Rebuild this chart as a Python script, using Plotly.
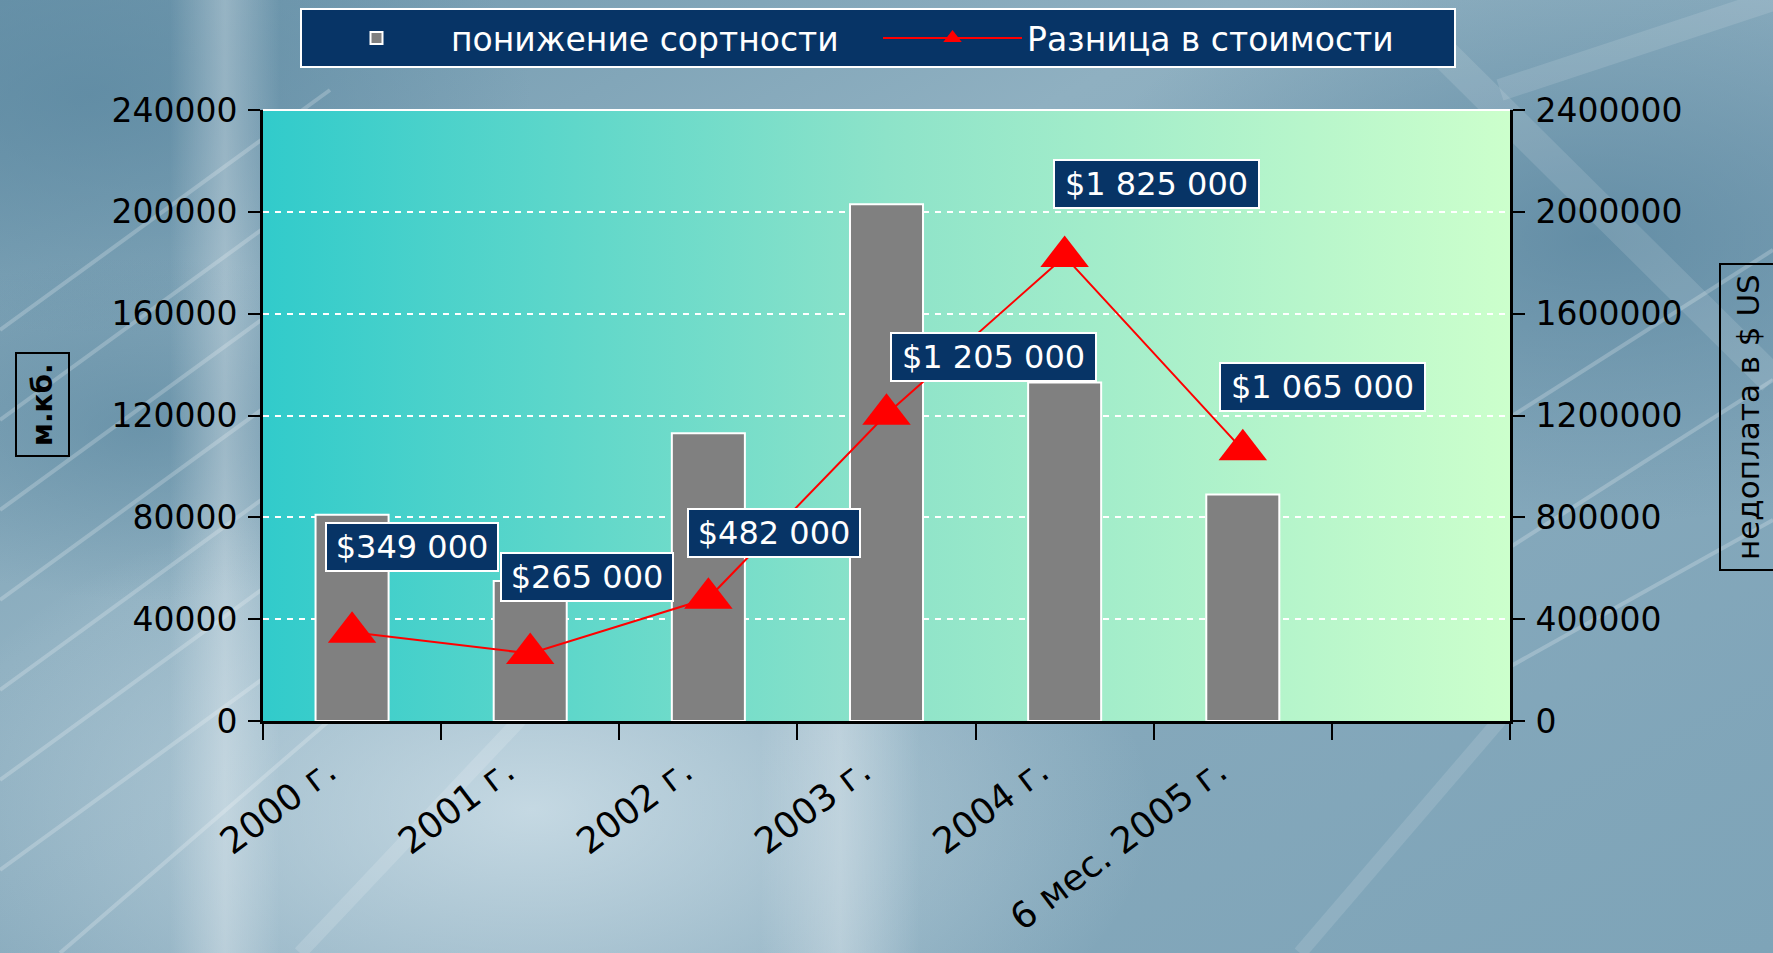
import base64
import plotly.graph_objects as go

# ---------------- data ----------------
categories = ["2000 г.", "2001 г.", "2002 г.", "2003 г.", "2004 г.", "6 мес. 2005 г."]
grade_drop = [81000, 55000, 113000, 203000, 133000, 89000]          # м.кб. (left axis)
cost_diff = [349000, 265000, 482000, 1205000, 1825000, 1065000]    # $ US (right axis)
left_ticks = [0, 40000, 80000, 120000, 160000, 200000, 240000]
right_ticks = [0, 400000, 800000, 1200000, 1600000, 2000000, 2400000]
bar_name = "понижение сортности"
line_name = "Разница в стоимости"
left_title = "м.кб."
right_title = "недоплата в $ US"

# label offsets (pixels) of the value boxes relative to their points
label_dx = [60, 57, 66, 107, 92, 80]
label_dy = [85, 77, 65, 57, 72, 63]

W, H = 1773, 953
L, R, T, B = 263, 263, 110, 232
pw, ph = W - L - R, H - T - B

NAVY = "#073466"
FONT = "DejaVu Sans, Verdana, sans-serif"

# ---------------- background images (SVG) ----------------
bg_svg = f"""<svg xmlns='http://www.w3.org/2000/svg' width='{W}' height='{H}' viewBox='0 0 {W} {H}'>
<defs>
<linearGradient id='g0' x1='0' y1='0' x2='1' y2='1'>
<stop offset='0' stop-color='#6d96ac'/>
<stop offset='0.35' stop-color='#8fb0c1'/>
<stop offset='0.6' stop-color='#86a9bc'/>
<stop offset='1' stop-color='#7ea4b8'/>
</linearGradient>
<radialGradient id='r1' cx='0.3' cy='0.85' r='0.35'>
<stop offset='0' stop-color='#d4e4ec' stop-opacity='0.8'/>
<stop offset='1' stop-color='#d4e4ec' stop-opacity='0'/>
</radialGradient>
<radialGradient id='r2' cx='0.9' cy='0.25' r='0.3'>
<stop offset='0' stop-color='#55829c' stop-opacity='0.7'/>
<stop offset='1' stop-color='#55829c' stop-opacity='0'/>
</radialGradient>
<radialGradient id='r3' cx='0.05' cy='0.1' r='0.25'>
<stop offset='0' stop-color='#5a87a0' stop-opacity='0.7'/>
<stop offset='1' stop-color='#5a87a0' stop-opacity='0'/>
</radialGradient>
<radialGradient id='r4' cx='0.08' cy='0.45' r='0.18'>
<stop offset='0' stop-color='#4f7e98' stop-opacity='0.5'/>
<stop offset='1' stop-color='#4f7e98' stop-opacity='0'/>
</radialGradient>
<linearGradient id='band' x1='0' y1='0' x2='1' y2='0'>
<stop offset='0' stop-color='#ffffff' stop-opacity='0'/>
<stop offset='0.5' stop-color='#ffffff' stop-opacity='0.3'/>
<stop offset='1' stop-color='#ffffff' stop-opacity='0'/>
</linearGradient>
</defs>
<rect width='{W}' height='{H}' fill='url(#g0)'/>
<rect width='{W}' height='{H}' fill='url(#r1)'/>
<rect width='{W}' height='{H}' fill='url(#r2)'/>
<rect width='{W}' height='{H}' fill='url(#r3)'/>
<rect width='{W}' height='{H}' fill='url(#r4)'/>
<rect x='170' y='0' width='110' height='{H}' fill='url(#band)'/>
<rect x='760' y='700' width='160' height='260' fill='url(#band)'/>
<g stroke='#ffffff' stroke-opacity='0.22' stroke-width='4' fill='none'>
<path d='M0 330 L330 90'/><path d='M0 420 L330 180'/><path d='M0 510 L330 270'/>
<path d='M0 600 L330 360'/><path d='M0 690 L330 450'/><path d='M0 780 L330 540'/>
<path d='M0 870 L330 630'/><path d='M60 953 L330 720'/>
<path d='M1490 430 L1773 250'/><path d='M1490 560 L1773 380'/><path d='M1450 700 L1773 520'/>
<path d='M1420 30 L1773 380' stroke-width='30' stroke-opacity='0.12'/>
<path d='M1500 90 L1773 0' stroke-width='22' stroke-opacity='0.12'/>
<path d='M300 953 L520 720' stroke-width='14' stroke-opacity='0.15'/>
<path d='M1300 953 L1500 720' stroke-width='14' stroke-opacity='0.12'/>
</g>
</svg>"""

plot_svg = """<svg xmlns='http://www.w3.org/2000/svg' width='1000' height='500' viewBox='0 0 1000 500' preserveAspectRatio='none'>
<defs><linearGradient id='p' x1='0' y1='0' x2='1' y2='0'>
<stop offset='0' stop-color='#31cbcb'/>
<stop offset='0.5' stop-color='#8de3c9'/>
<stop offset='1' stop-color='#ccffcc'/>
</linearGradient></defs>
<rect width='1000' height='500' fill='url(#p)'/>
</svg>"""


def svg_uri(s):
    return "data:image/svg+xml;base64," + base64.b64encode(s.encode("utf-8")).decode("ascii")


xs = list(range(len(categories)))

fig = go.Figure()
fig.add_trace(go.Bar(
    x=xs, y=grade_drop, name=bar_name, width=0.41,
    marker=dict(color="#808080", line=dict(color="white", width=2)),
    yaxis="y", hoverinfo="skip",
))
fig.add_trace(go.Scatter(
    x=xs, y=cost_diff, name=line_name, mode="lines+markers",
    line=dict(color="#ff0000", width=2),
    marker=dict(symbol="triangle-up", size=42, color="#ff0000"),
    yaxis="y2", hoverinfo="skip",
))

annotations = []
for i, v in enumerate(cost_diff):
    txt = "${:,}".format(v).replace(",", " ")
    annotations.append(dict(
        x=xs[i], y=v, xref="x", yref="y2", text=txt, showarrow=False,
        xshift=label_dx[i], yshift=label_dy[i],
        width=16.5 * len(txt) + 34, height=42,
        font=dict(family=FONT, size=32, color="white"),
        bgcolor=NAVY, bordercolor="white", borderwidth=2, borderpad=2,
    ))

annotations.append(dict(
    x=-(L - 42) / pw, y=(H - B - 404) / ph, xref="paper", yref="paper",
    xanchor="center", yanchor="middle",
    text="<b>" + left_title + "</b>", textangle=-90, showarrow=False,
    font=dict(family=FONT, size=28, color="black"),
    bordercolor="black", borderwidth=2, borderpad=9,
))
annotations.append(dict(
    x=1 + (1748 - (W - R)) / pw, y=(H - B - 417) / ph, xref="paper", yref="paper",
    xanchor="center", yanchor="middle",
    text=right_title, textangle=-90, showarrow=False,
    font=dict(family=FONT, size=31, color="black"),
    bordercolor="black", borderwidth=2, borderpad=9,
))

fig.update_layout(
    width=W, height=H,
    margin=dict(l=L, r=R, t=T, b=B, autoexpand=False),
    paper_bgcolor="#7fa3b8",
    plot_bgcolor="rgba(0,0,0,0)",
    showlegend=True,
    legend=dict(
        orientation="h", x=(300 - L) / pw, xanchor="left",
        y=1 + (T - 8) / ph, yanchor="top",
        bgcolor=NAVY, bordercolor="white", borderwidth=2,
        font=dict(family=FONT, size=33, color="white"),
        itemwidth=139, entrywidth=422, entrywidthmode="pixels",
        itemsizing="trace", traceorder="normal",
    ),
    xaxis=dict(
        range=[-0.5, 6.5], tickmode="array", tickvals=xs, ticktext=categories,
        tickangle=-37, ticks="", showgrid=False, zeroline=False,
        showline=True, linecolor="black", linewidth=3,
        tickfont=dict(family=FONT, size=36, color="black"),
        ticklabelstandoff=12, ticklabelshift=-24,
        minor=dict(tickmode="linear", tick0=-0.5, dtick=1, ticks="outside",
                   ticklen=16, tickwidth=2, tickcolor="black", showgrid=False),
    ),
    yaxis=dict(
        range=[0, 240000], tickmode="array", tickvals=left_ticks,
        tickformat="d", ticks="outside", ticklen=12, tickwidth=2, tickcolor="black",
        showline=True, linecolor="black", linewidth=3, zeroline=False,
        showgrid=True, gridcolor="white", gridwidth=2, griddash="6px,6px",
        tickfont=dict(family=FONT, size=33, color="black"),
        ticklabelstandoff=4,
    ),
    yaxis2=dict(
        range=[0, 2400000], tickmode="array", tickvals=right_ticks,
        tickformat="d", overlaying="y", side="right",
        ticks="outside", ticklen=12, tickwidth=2, tickcolor="black",
        showline=True, linecolor="black", linewidth=3, zeroline=False,
        showgrid=False,
        tickfont=dict(family=FONT, size=33, color="black"),
        ticklabelstandoff=4,
    ),
    shapes=[dict(type="line", xref="paper", yref="paper", x0=0, x1=1, y0=1, y1=1,
                 line=dict(color="white", width=2), layer="below")],
    annotations=annotations,
    images=[
        dict(source=svg_uri(bg_svg), xref="paper", yref="paper",
             x=-L / pw, y=1 + T / ph, sizex=W / pw, sizey=H / ph,
             xanchor="left", yanchor="top", sizing="stretch", layer="below"),
        dict(source=svg_uri(plot_svg), xref="paper", yref="paper",
             x=0, y=1, sizex=1, sizey=1,
             xanchor="left", yanchor="top", sizing="stretch", layer="below"),
    ],
)

fig.write_html(
    "out.html",
    config={"displayModeBar": False},
    post_script="document.body.style.margin='0';document.body.style.overflow='hidden';",
)
